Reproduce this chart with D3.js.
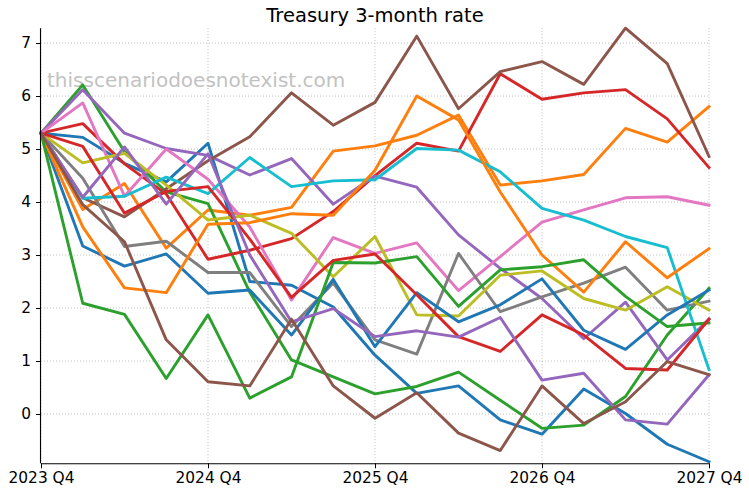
<!DOCTYPE html>
<html>
<head>
<meta charset="utf-8">
<script src="https://cdn.jsdelivr.net/npm/d3@7"></script>
<style>
  html, body { margin: 0; padding: 0; background: #fff; }
  svg { display: block; font-family: "DejaVu Sans", sans-serif; }
</style>
</head>
<body>
<svg id="chart" width="749" height="492"></svg>
<script>
// ---- data ----
const quarters = ["2023 Q4","2024 Q1","2024 Q2","2024 Q3","2024 Q4","2025 Q1","2025 Q2","2025 Q3","2025 Q4",
                  "2026 Q1","2026 Q2","2026 Q3","2026 Q4","2027 Q1","2027 Q2","2027 Q3","2027 Q4"];
const tickLabels = ["2023 Q4","2024 Q4","2025 Q4","2026 Q4","2027 Q4"];
const yTicks = [0,1,2,3,4,5,6,7];

const s00 = [5.3, 5.22, 4.73, 4.38, 5.11, 2.50, 2.43, 2.02, 1.11, 0.39, 0.53, -0.11, -0.38, 0.47, 0.01, -0.57, -0.90];
const s01 = [5.3, 3.86, 4.35, 3.13, 3.85, 3.75, 3.90, 4.96, 5.06, 5.26, 5.64, 4.32, 4.40, 4.52, 5.39, 5.13, 5.80];
const s02 = [5.3, 6.21, 4.95, 4.19, 3.97, 2.30, 1.02, 0.70, 0.38, 0.52, 0.79, 0.26, -0.27, -0.21, 0.33, 1.49, 2.37];
const s03 = [5.3, 5.48, 4.72, 4.15, 2.92, 3.09, 3.31, 3.82, 4.50, 5.11, 4.96, 6.42, 5.94, 6.06, 6.12, 5.57, 4.65];
const s04 = [5.3, 6.12, 5.30, 5.01, 4.88, 4.51, 4.82, 3.96, 4.49, 4.28, 3.38, 2.75, 2.18, 1.42, 2.11, 1.02, 1.79];
const s05 = [5.3, 4.08, 3.72, 4.25, 4.78, 5.23, 6.06, 5.45, 5.88, 7.13, 5.76, 6.46, 6.65, 6.22, 7.28, 6.61, 4.86];
const s06 = [5.3, 5.87, 4.11, 5.00, 4.43, 3.53, 2.15, 3.33, 3.03, 3.23, 2.33, 2.97, 3.62, 3.85, 4.08, 4.10, 3.94];
const s07 = [5.3, 4.45, 3.16, 3.26, 2.67, 2.67, 1.65, 2.47, 1.40, 1.13, 3.03, 1.93, 2.21, 2.47, 2.77, 1.96, 2.13];
const s08 = [5.3, 4.74, 4.92, 4.32, 3.66, 3.75, 3.41, 2.59, 3.35, 1.87, 1.85, 2.62, 2.70, 2.18, 1.96, 2.40, 1.96];
const s09 = [5.3, 4.07, 4.11, 4.47, 4.16, 4.84, 4.29, 4.40, 4.42, 5.01, 4.98, 4.57, 3.88, 3.66, 3.35, 3.14, 0.84];
const s10 = [5.3, 3.17, 2.79, 3.02, 2.28, 2.34, 1.49, 2.54, 1.27, 2.29, 1.74, 2.06, 2.55, 1.58, 1.22, 1.87, 2.34];
const s11 = [5.3, 3.53, 2.38, 2.29, 3.58, 3.61, 3.78, 3.75, 4.60, 6.00, 5.55, 4.19, 3.00, 2.30, 3.25, 2.57, 3.12];
const s12 = [5.3, 2.09, 1.88, 0.67, 1.87, 0.30, 0.70, 2.86, 2.85, 2.97, 2.03, 2.72, 2.78, 2.91, 2.22, 1.65, 1.72];
const s13 = [5.3, 5.05, 3.79, 4.20, 4.29, 3.30, 2.20, 2.90, 3.02, 2.25, 1.46, 1.18, 1.87, 1.49, 0.86, 0.83, 1.79];
const s14 = [5.3, 4.09, 5.04, 3.96, 4.91, 3.00, 1.74, 1.99, 1.46, 1.57, 1.45, 1.82, 0.64, 0.77, -0.11, -0.19, 0.74];
const s15 = [5.3, 3.95, 3.25, 1.40, 0.61, 0.53, 1.79, 0.53, -0.08, 0.40, -0.36, -0.69, 0.53, -0.18, 0.23, 0.99, 0.74];

const seriesList = [s00,s01,s02,s03,s04,s05,s06,s07,s08,s09,s10,s11,s12,s13,s14,s15];
const palette = ["#1f77b4","#ff7f0e","#2ca02c","#d62728","#9467bd","#8c564b","#e377c2","#7f7f7f","#bcbd22","#17becf"];

// ---- layout ----
const svg = d3.select("#chart");
const mLeft = 41, mRight = 709, mTop = 28.2, mBottom = 463.3;

const x = d3.scalePoint().domain(quarters).range([mLeft, mRight]);
const y = d3.scaleLinear().domain([-0.93, 7.28]).range([mBottom, mTop]);

// grid
const grid = svg.append("g");
grid.selectAll("line.gx").data(tickLabels).join("line")
  .attr("x1", d => x(d)).attr("x2", d => x(d))
  .attr("y1", mTop).attr("y2", mBottom)
  .attr("stroke", "#b0b0b0").attr("stroke-width", 0.8).attr("stroke-dasharray", "1,2");
grid.selectAll("line.gy").data(yTicks).join("line")
  .attr("x1", mLeft).attr("x2", mRight)
  .attr("y1", d => y(d)).attr("y2", d => y(d))
  .attr("stroke", "#b0b0b0").attr("stroke-width", 0.8).attr("stroke-dasharray", "1,2");

// watermark
svg.append("text")
  .attr("x", 47).attr("y", 87)
  .attr("font-size", "20px").attr("fill", "#c2c2c2")
  .text("thisscenariodoesnotexist.com");

// lines
const line = d3.line().x((d, i) => x(quarters[i])).y(d => y(d));
svg.append("g").selectAll("path").data(seriesList).join("path")
  .attr("d", d => line(d))
  .attr("fill", "none")
  .attr("stroke", (d, i) => palette[i % 10])
  .attr("stroke-width", 2.9)
  .attr("stroke-linejoin", "round")
  .attr("stroke-linecap", "square");

// axes
const xAxis = d3.axisBottom(x).tickValues(tickLabels).tickSize(5).tickPadding(4);
const gx = svg.append("g").attr("transform", `translate(0,${mBottom})`).call(xAxis);
gx.select(".domain").attr("d", `M${mLeft},0.5H${mRight}`).attr("stroke", "#000").attr("stroke-width", 1.1);
gx.selectAll("text").attr("font-size", "15.4px").attr("font-family", "DejaVu Sans").attr("fill", "#000");

const yAxis = d3.axisLeft(y).tickValues(yTicks).tickFormat(d3.format("d")).tickSize(5).tickPadding(5);
const gy = svg.append("g").attr("transform", `translate(${mLeft},0)`).call(yAxis);
gy.select(".domain").attr("d", `M-0.5,${mTop}V${mBottom}`).attr("stroke", "#000").attr("stroke-width", 1.1);
gy.selectAll("text").attr("font-size", "15.4px").attr("font-family", "DejaVu Sans").attr("fill", "#000");

// title
svg.append("text")
  .attr("x", (mLeft + mRight) / 2).attr("y", 22)
  .attr("text-anchor", "middle")
  .attr("font-size", "19.5px").attr("fill", "#000")
  .text("Treasury 3-month rate");
</script>
</body>
</html>
